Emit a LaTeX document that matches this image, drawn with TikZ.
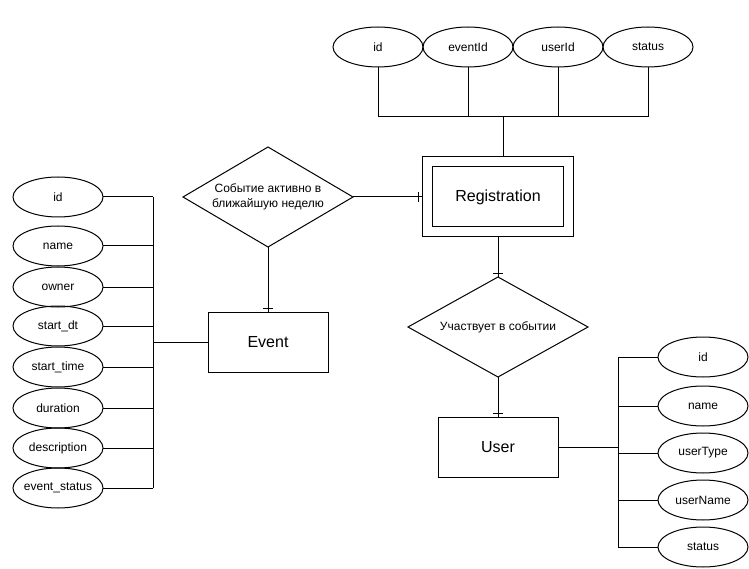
\documentclass[tikz,border=0pt]{standalone}
\usepackage{fontspec}
\setmainfont{Liberation Sans}
\usetikzlibrary{shapes.geometric,decorations.markings,calc}

\begin{document}
\begin{tikzpicture}[x=1pt,y=-1pt,line width=1pt,
  attr/.style={draw,ellipse,minimum width=90pt,minimum height=40pt,inner xsep=-3pt,inner ysep=0pt,
    outer sep=0pt,font=\fontsize{12}{14}\selectfont},
  entity/.style={draw,rectangle,minimum width=120pt,minimum height=60pt,inner sep=0pt,outer sep=0pt,
    font=\fontsize{16}{18}\selectfont},
  rel/.style={rectangle,minimum width=170pt,minimum height=100pt,inner sep=0pt,outer sep=0pt,
    align=center,font=\fontsize{12}{14.5}\selectfont},
  tickend/.style={postaction={decorate,decoration={markings,
    mark=at position -4pt with {\draw[line width=1pt] (0,-5pt) -- (0,5pt);}}}}
]
\useasboundingbox (0,0) rectangle (749,569);

% Registration (weak entity, double frame)
\node[draw,minimum width=151pt,minimum height=80pt,outer sep=0pt] (reg) at (498,197) {};
\node[entity,minimum width=131pt,minimum height=60pt] (regin) at (498,197) {Registration};

% Registration attributes
\node[attr] (r1) at (378,47) {id};
\node[attr] (r2) at (468,47) {eventId};
\node[attr] (r3) at (558,47) {userId};
\node[attr] (r4) at (648,47) {status};
\coordinate (tbus) at (503,117);
\foreach \n in {r1,r2,r3,r4} \draw (\n.south) -- (\n.south |- tbus);
\draw (r1.south |- tbus) -- (r4.south |- tbus);
\draw (tbus) -- (tbus |- reg.north);

% Relationships (diamonds drawn through the node's side anchors)
\node[rel] (rel1) at (268,197) {Событие активно в\\ближайшую неделю};
\node[rel,minimum width=180pt] (rel2) at (498,327) {Участвует в событии};
\foreach \n in {rel1,rel2}
  \draw (\n.north) -- (\n.east) -- (\n.south) -- (\n.west) -- cycle;

% Entities
\node[entity] (event) at (268,342) {Event};
\node[entity] (user) at (498,447) {User};

\draw[tickend] (rel1.east) -- (reg.west);
\draw[tickend] (rel1.south) -- (event.north);
\draw[tickend] (reg.south) -- (rel2.north);
\draw[tickend] (rel2.south) -- (user.north);

% Event attributes
\node[attr] (e1) at (58,197) {id};
\node[attr] (e2) at (58,246) {name};
\node[attr] (e3) at (58,287) {owner};
\node[attr] (e4) at (58,326) {start\_dt};
\node[attr] (e5) at (58,367) {start\_time};
\node[attr] (e6) at (58,408) {duration};
\node[attr] (e7) at (58,448) {description};
\node[attr] (e8) at (58,488) {event\_status};
\coordinate (lbus) at (153,342);
\foreach \n in {e1,e2,e3,e4,e5,e6,e7,e8} \draw (\n.east) -- (\n.east -| lbus);
\draw (e1.east -| lbus) -- (e8.east -| lbus);
\draw (event.west) -- (lbus);

% User attributes
\node[attr] (u1) at (703,357) {id};
\node[attr] (u2) at (703,406) {name};
\node[attr] (u3) at (703,453) {userType};
\node[attr] (u4) at (703,500) {userName};
\node[attr] (u5) at (703,547) {status};
\coordinate (ubus) at (618,447);
\foreach \n in {u1,u2,u3,u4,u5} \draw (ubus |- \n.west) -- (\n.west);
\draw (ubus |- u1.west) -- (ubus |- u5.west);
\draw (user.east) -- (ubus);
\end{tikzpicture}
\end{document}
